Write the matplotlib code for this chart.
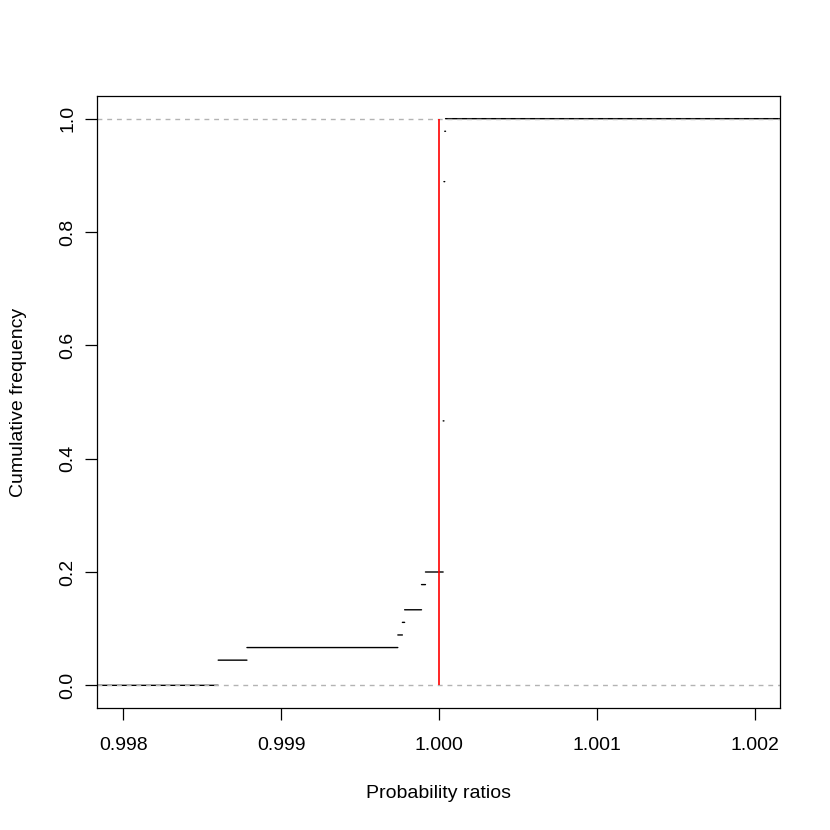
import numpy as np
import matplotlib
matplotlib.use('Agg')
from matplotlib import pyplot as plt

# distinct probability ratios and how many observations sit at each one
ratios = [0.998602, 0.998784, 0.999739, 0.999768, 0.999782, 0.999889,
          0.999914, 1.000026, 1.000031, 1.000036, 1.000041]
counts = [2, 1, 1, 1, 1, 2, 1, 12, 19, 4, 1]

x_ticks = [0.998, 0.999, 1.000, 1.001, 1.002]
y_ticks = [0.0, 0.2, 0.4, 0.6, 0.8, 1.0]
x_limits = (0.997835, 1.002158)


def main():
    plt.rcParams['font.family'] = ['Liberation Sans', 'DejaVu Sans']
    fig = plt.figure(figsize=(8.3, 8.3), dpi=100)
    ax = fig.add_axes((97 / 830, 1 - 708 / 830, 683 / 830, 612 / 830))

    knots = np.array(ratios)
    cum = np.cumsum(counts) / np.sum(counts)

    # ecdf as horizontal steps, no verticals
    starts = np.concatenate(([x_limits[0] - 0.001], knots))
    ends = np.concatenate((knots, [x_limits[1] + 0.001]))
    levels = np.concatenate(([0.0], cum))
    ax.hlines(levels, starts, ends, colors='black', linewidth=1.0,
              capstyle='round', snap=False)

    # dashed reference lines at 0 and 1
    for h in (0.0, 1.0):
        ax.axhline(h, color='#b3b3b3', linewidth=1.0, linestyle=(0, (3.5, 3.5)))

    ax.vlines(1.0, 0.0, 1.0, colors='red', linewidth=1.2)

    ax.set_xlim(*x_limits)
    ax.set_ylim(-0.04, 1.04)
    ax.set_xticks(x_ticks)
    ax.set_xticklabels([f'{t:.3f}' for t in x_ticks])
    ax.set_yticks(y_ticks)
    ax.set_yticklabels([f'{t:.1f}' for t in y_ticks], rotation=90, va='center')
    ax.tick_params(labelsize=14, length=8.6, width=0.9, direction='out')
    ax.tick_params(axis='x', pad=12)
    ax.tick_params(axis='y', pad=6.5)
    for sp in ax.spines.values():
        sp.set_linewidth(0.9)

    ax.set_xlabel('Probability ratios', fontsize=14, labelpad=22.5)
    ax.set_ylabel('Cumulative frequency', fontsize=14, labelpad=23)

    fig.savefig('out.png', dpi=100)


if __name__ == '__main__':
    main()
